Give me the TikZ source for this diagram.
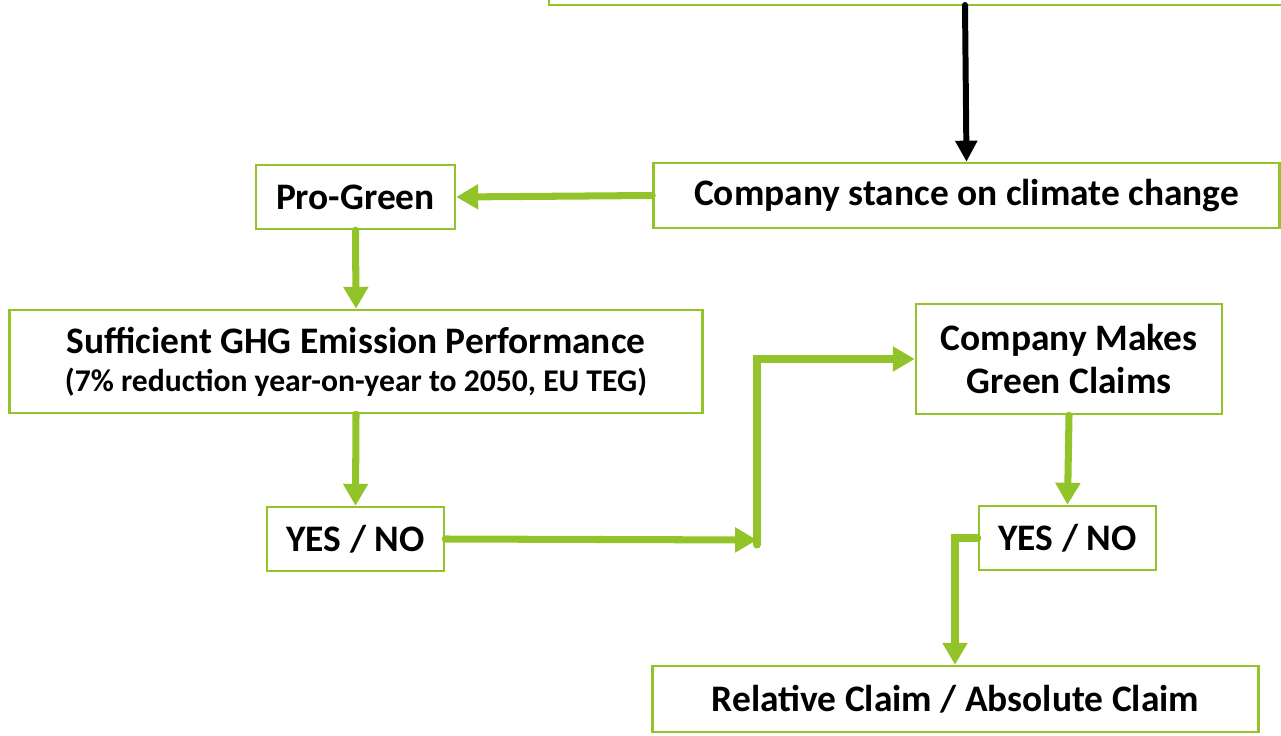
\documentclass[tikz,border=0pt]{standalone}
\usepackage{fontspec}
\setmainfont{Carlito}
\usetikzlibrary{arrows.meta}
\definecolor{grn}{RGB}{146,195,40}
\begin{document}
\begin{tikzpicture}[x=0.02cm,y=-0.02cm,
  box/.style={draw=grn, line width=1.4pt, fill=white, inner sep=0pt,
    align=center, font=\bfseries\fontsize{21.3}{24.5}\selectfont},
  link/.style={draw=grn, line width=4pt, line cap=round,
    -{Triangle[width=13.6pt,length=12.5pt]}},
  plain/.style={draw=grn, line width=4pt, line cap=round}]
\useasboundingbox (0,0) rectangle (1281,736);
\clip (0,0) rectangle (1281,736);

% boxes
\node[box, minimum width=760*0.02cm, minimum height=100*0.02cm] (top) at (929,-45) {};
\node[box, minimum width=626*0.02cm, minimum height=65*0.02cm] (stance) at (966.5,195.5) {Company stance on climate change};
\node[box, minimum width=199*0.02cm, minimum height=64*0.02cm] (pro) at (355.5,197) {Pro-Green};
\node[box, minimum width=693*0.02cm, minimum height=103*0.02cm] (suff) at (356,361.5)
  {Sufficient GHG Emission Performance\\[-3pt]{\fontsize{18}{21}\selectfont (7\% reduction year-on-year to 2050, EU TEG)}};
\node[box, minimum width=177*0.02cm, minimum height=64*0.02cm] (yn1) at (355.5,539) {YES / NO};
\node[box, minimum width=306*0.02cm, minimum height=110*0.02cm] (claims) at (1069,359) {Company Makes\\Green Claims};
\node[box, minimum width=177*0.02cm, minimum height=64*0.02cm] (yn2) at (1067.5,538) {YES / NO};
\node[box, minimum width=606*0.02cm, minimum height=66*0.02cm] (rel) at (955.5,699) {Relative Claim / Absolute Claim};

% junction points
\coordinate (j1) at (757,540);
\coordinate (j1low) at (757,545);
\coordinate (j2) at (955,538);

% connectors
\draw[line width=3.4pt, line cap=round, -{Triangle[width=12pt,length=12pt]}] (965,5) -- (stance.north);
\draw[link] (stance.west) -- (pro.east);
\draw[link] (pro.south) -- (suff.north);
\draw[link] (suff.south) -- (yn1.north);
\draw[link] (yn1.east) -- (j1);
\draw[link] (j1low) |- (claims.west);
\draw[link] (claims.south) -- (yn2.north);
\draw[link] (yn2.west) -- (j2) -- (rel.north -| j2);
\end{tikzpicture}
\end{document}
